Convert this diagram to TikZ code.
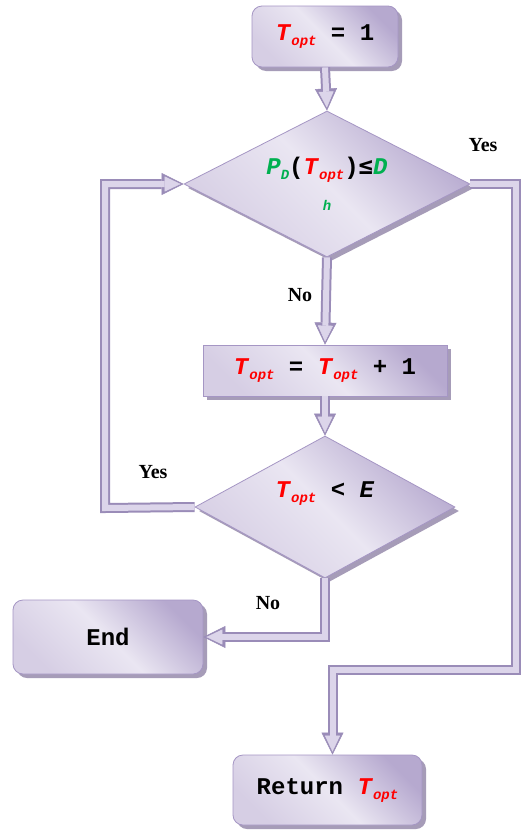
\documentclass[tikz,border=0pt]{standalone}
\usepackage{fontspec}
\setmainfont{Liberation Serif}
\newfontfamily\courf{Liberation Mono}
\newfontfamily\dejamono{DejaVu Sans Mono}
\usetikzlibrary{shapes.geometric,shadows,arrows.meta}
\definecolor{tred}{HTML}{FF0000}
\definecolor{tgreen}{HTML}{00B050}
\definecolor{lavL}{HTML}{EAE6F2}
\definecolor{lavM}{HTML}{D6CEE4}
\definecolor{lavD}{HTML}{B6A9CF}
\definecolor{lavB}{HTML}{A596C4}
\definecolor{shcol}{HTML}{A69CB8}
\definecolor{pipeL}{HTML}{DCD5EA}
\definecolor{pipeD}{HTML}{9A8CB8}
\newcommand\subsz{\fontsize{14}{14}\selectfont}
\newcommand\TTopt{\textcolor{tred}{\textit{T}\raisebox{-5pt}{\subsz\textit{opt}}}}
\begin{document}
\begin{tikzpicture}[x=1pt,y=-1pt,
  shp/.style={draw=lavB, line width=0.8pt, inner sep=0pt,
    top color=lavD, bottom color=lavM, middle color=lavL, shading angle=-45,
    drop shadow={shadow xshift=4pt, shadow yshift=-4pt, fill=shcol, opacity=1},
    font=\courf\bfseries\fontsize{24}{28}\selectfont},
  rbox/.style={shp, rectangle, rounded corners=10pt},
  sbox/.style={shp, rectangle},
  diam/.style={shp, diamond},
  lbl/.style={font=\bfseries\fontsize{20}{22}\selectfont, inner sep=0pt},
  pipeA/.style={draw=pipeD, line width=10pt, -{Triangle[width=22pt,length=22pt,line width=0.5pt]}},
  pipeB/.style={draw=pipeL, line width=6pt, shorten >=3pt, -{Triangle[width=15pt,length=16pt,line width=0.5pt]}},
  pipeAn/.style={draw=pipeD, line width=10pt},
  pipeBn/.style={draw=pipeL, line width=6pt}
]
\useasboundingbox (0,0) rectangle (520,833);
\fill[white] (0,0) rectangle (520,833);

% nodes
\node[rbox, minimum width=146pt, minimum height=61pt] (start) at (325,36.5) {\TTopt\ = 1};
\node[diam, minimum width=286pt, minimum height=146pt] (d1) at (327,184) {};
\node[sbox, minimum width=244pt, minimum height=51pt] (inc) at (325,370.5) {\TTopt\ = \TTopt\ + 1};
\node[diam, minimum width=260pt, minimum height=142pt] (d2) at (325,507) {};
\node[rbox, minimum width=190pt, minimum height=74pt] (endb) at (108,637) {End};
\node[rbox, minimum width=189pt, minimum height=70pt] (ret) at (327.5,790) {Return \TTopt};

% diamond texts
\node[font=\courf\bfseries\fontsize{24}{28}\selectfont, inner sep=0pt] (d1t) at ([yshift=14pt]d1.center)
  {\textcolor{tgreen}{\textit{P}\raisebox{-5pt}{\subsz\textit{D}}}(\TTopt){\dejamono\bfseries ≤}\textcolor{tgreen}{\textit{D}}};
\node[font=\courf\bfseries\subsz, text=tgreen, inner sep=0pt] (d1h) at ([yshift=-21pt]d1.center) {\textit{h}};
\node[font=\courf\bfseries\fontsize{24}{28}\selectfont, inner sep=0pt] (d2t) at ([yshift=13pt]d2.center) {\TTopt\ < \textit{E}};

% labels
\node[lbl] (yes1) at (483,145) {Yes};
\node[lbl] (no1) at (300,295) {No};
\node[lbl] (yes2) at (153,472) {Yes};
\node[lbl] (no2) at (268,603) {No};

% helper coordinates
\coordinate (rc) at (516,670);
\coordinate (lc) at (105,508);
\coordinate (rtop) at ([xshift=5pt]ret.north);

% connectors
\draw[pipeA] (start.south) -- (d1.north);
\draw[pipeB] (start.south) -- (d1.north);
\draw[pipeA] (d1.south) -- (inc.north);
\draw[pipeB] (d1.south) -- (inc.north);
\draw[pipeA] (inc.south) -- (d2.north);
\draw[pipeB] (inc.south) -- (d2.north);
\draw[pipeA] (d2.west) -- (lc) |- (d1.west);
\draw[pipeB] (d2.west) -- (lc) |- (d1.west);
\draw[pipeA] (d1.east) -| (rc) -| (rtop);
\draw[pipeB] (d1.east) -| (rc) -| (rtop);
\draw[pipeA] (d2.south) |- (endb.east);
\draw[pipeB] (d2.south) |- (endb.east);
\end{tikzpicture}
\end{document}
